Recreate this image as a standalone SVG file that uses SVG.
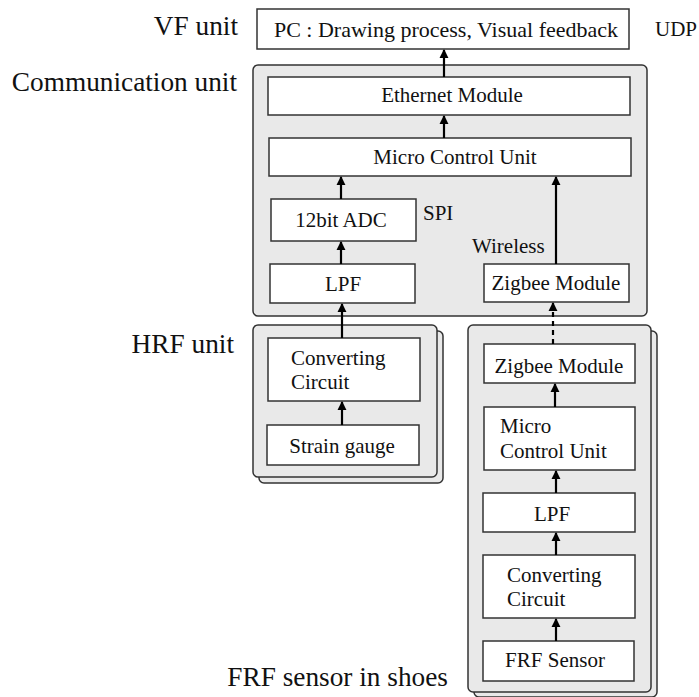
<svg xmlns="http://www.w3.org/2000/svg" width="699" height="697" viewBox="0 0 699 697">
  <style>
    .unit { fill: #e9e9e9; stroke: #333; stroke-width: 1.5; }
    .box { fill: #fff; stroke: #333; stroke-width: 1.5; }
    .t { font-family: 'Liberation Serif', 'Times New Roman', serif; font-size: 21px; fill: #111; }
    .c { text-anchor: middle; }
    .lbl { font-family: 'Liberation Serif', 'Times New Roman', serif; font-size: 27.3px; fill: #111; text-anchor: end; }
    .wire { stroke: #000; stroke-width: 2.2; fill: none; marker-end: url(#arrow); }
    .dash { stroke-dasharray: 5 4; }
  </style>
  <defs>
    <marker id="arrow" viewBox="0 0 10 10" refX="9" refY="5" markerWidth="4.2" markerHeight="4.2" orient="auto" markerUnits="strokeWidth">
      <path d="M0,0 L10,5 L0,10 Z" fill="#000"/>
    </marker>
  </defs>
  <rect width="699" height="697" fill="#fff"/>

  <!-- VF unit -->
  <g id="pc">
    <rect class="box" x="257" y="9" width="372" height="40"/>
    <text class="t c" x="446" y="37" style="font-size:22px">PC : Drawing process, Visual feedback</text>
  </g>
  <text class="t" x="655" y="36">UDP</text>

  <!-- Communication unit -->
  <g id="comm-unit">
    <rect class="unit" x="253" y="65" width="394" height="251" rx="5"/>
  </g>
  <g id="ethernet">
    <rect class="box" x="268" y="77" width="362" height="38"/>
    <text class="t c" x="452" y="102">Ethernet Module</text>
  </g>
  <g id="mcu">
    <rect class="box" x="269" y="138" width="362" height="38"/>
    <text class="t c" x="455" y="164">Micro Control Unit</text>
  </g>
  <g id="adc">
    <rect class="box" x="271" y="199" width="145" height="42"/>
    <text class="t c" x="341" y="227">12bit ADC</text>
  </g>
  <text class="t" x="423" y="220">SPI</text>
  <g id="lpf">
    <rect class="box" x="270" y="264" width="145" height="39"/>
    <text class="t c" x="343" y="291">LPF</text>
  </g>
  <text class="t" x="472" y="253">Wireless</text>
  <g id="zigbee-rx">
    <rect class="box" x="484" y="264" width="145" height="38"/>
    <text class="t c" x="556" y="290">Zigbee Module</text>
  </g>

  <!-- HRF unit -->
  <g id="hrf-unit">
    <rect class="unit" x="259" y="331" width="184" height="152" rx="5"/>
    <rect class="unit" x="253" y="325" width="184" height="152" rx="5"/>
  </g>
  <g id="hrf-conv">
    <rect class="box" x="268" y="338" width="152" height="63"/>
    <text class="t" x="291" y="365">Converting</text>
    <text class="t" x="291" y="389">Circuit</text>
  </g>
  <g id="strain">
    <rect class="box" x="267" y="425" width="152" height="40"/>
    <text class="t c" x="342" y="453">Strain gauge</text>
  </g>

  <!-- FRF sensor unit -->
  <g id="frf-unit">
    <rect class="unit" x="474" y="331" width="183" height="366" rx="5"/>
    <rect class="unit" x="468" y="325" width="183" height="367" rx="5"/>
  </g>
  <g id="zigbee-tx">
    <rect class="box" x="484" y="344" width="151" height="39"/>
    <text class="t c" x="559" y="373">Zigbee Module</text>
  </g>
  <g id="frf-mcu">
    <rect class="box" x="484" y="407" width="151" height="63"/>
    <text class="t" x="500" y="433">Micro</text>
    <text class="t" x="500" y="458">Control Unit</text>
  </g>
  <g id="frf-lpf">
    <rect class="box" x="483" y="493" width="152" height="39"/>
    <text class="t c" x="552" y="521">LPF</text>
  </g>
  <g id="frf-conv">
    <rect class="box" x="483" y="555" width="152" height="63"/>
    <text class="t" x="507" y="582">Converting</text>
    <text class="t" x="507" y="606">Circuit</text>
  </g>
  <g id="frf-sensor">
    <rect class="box" x="483" y="641" width="151" height="40"/>
    <text class="t c" x="555" y="667">FRF Sensor</text>
  </g>

  <!-- section labels -->
  <text class="lbl" x="238" y="35">VF unit</text>
  <text class="lbl" x="237" y="91">Communication unit</text>
  <text class="lbl" x="234" y="353">HRF unit</text>
  <text class="lbl" x="448" y="686">FRF sensor in shoes</text>

  <!-- connectors -->
  <g id="connectors">
    <path class="wire" d="M444,77 V50"/>
    <path class="wire" d="M444,138 V116"/>
    <path class="wire" d="M341,199 V177"/>
    <path class="wire" d="M341,264 V242"/>
    <path class="wire" d="M556,264 V177"/>
    <path class="wire" d="M342,338 V304"/>
    <path class="wire" d="M342,425 V402"/>
    <path class="wire dash" d="M553,344 V303"/>
    <path class="wire" d="M555,407 V384"/>
    <path class="wire" d="M556,493 V471"/>
    <path class="wire" d="M556,555 V533"/>
    <path class="wire" d="M556,641 V619"/>
  </g>
</svg>
